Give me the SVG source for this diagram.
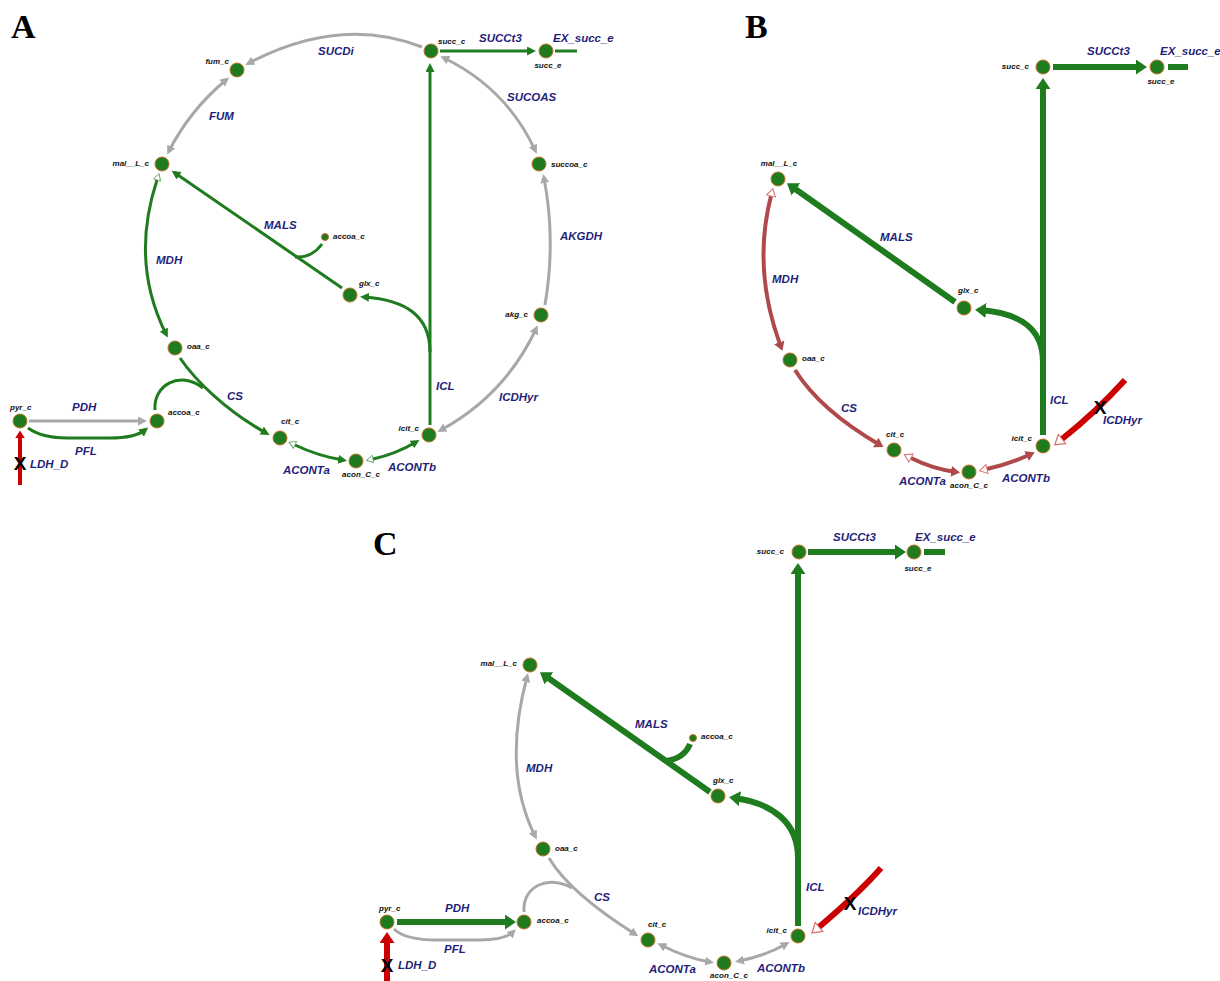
<svg xmlns="http://www.w3.org/2000/svg" width="1220" height="981" viewBox="0 0 1220 981">
<style>
.n{fill:#1e7b1e;stroke:#c0702a;stroke-width:1}
.nl{font-family:"Liberation Sans",Arial,sans-serif;font-size:8px;font-style:italic;font-weight:bold;fill:#111}
.rl{font-family:"Liberation Sans",Arial,sans-serif;font-size:11.5px;font-style:italic;font-weight:bold;fill:#1f1f7a}
.pl{font-family:"Liberation Serif","Times New Roman",serif;font-size:34px;font-weight:bold;fill:#000}
.x{font-family:"Liberation Sans",Arial,sans-serif;font-size:19px;font-weight:bold;fill:#000;text-anchor:middle}
.e{fill:none;stroke-linecap:butt;stroke-linejoin:round}
.g3{stroke:#1e7b1e;stroke-width:3}
.y3{stroke:#a8a8a8;stroke-width:3}
.g6{stroke:#1e7b1e;stroke-width:6}
.b4{stroke:#b04a4a;stroke-width:4}
.r4{stroke:#cc0000;stroke-width:4}
.r6{stroke:#cc0000;stroke-width:6}
.end{text-anchor:end}
.mid{text-anchor:middle}
</style>
<defs>
<marker id="ag" viewBox="0 0 10 10" markerUnits="userSpaceOnUse" markerWidth="9" markerHeight="9" refX="5.5" refY="5" orient="auto-start-reverse" preserveAspectRatio="none"><path d="M0,0L10,5L0,10z" fill="#1e7b1e"/></marker>
<marker id="ay" viewBox="0 0 10 10" markerUnits="userSpaceOnUse" markerWidth="9" markerHeight="9" refX="5.5" refY="5" orient="auto-start-reverse" preserveAspectRatio="none"><path d="M0,0L10,5L0,10z" fill="#a8a8a8"/></marker>
<marker id="agL" viewBox="0 0 10 10" markerUnits="userSpaceOnUse" markerWidth="11" markerHeight="15" refX="5.5" refY="5" orient="auto-start-reverse" preserveAspectRatio="none"><path d="M0,0L10,5L0,10z" fill="#1e7b1e"/></marker>
<marker id="ab" viewBox="0 0 10 10" markerUnits="userSpaceOnUse" markerWidth="9" markerHeight="11" refX="5.5" refY="5" orient="auto-start-reverse" preserveAspectRatio="none"><path d="M0,0L10,5L0,10z" fill="#b04a4a"/></marker>
<marker id="ar" viewBox="0 0 10 10" markerUnits="userSpaceOnUse" markerWidth="8" markerHeight="10" refX="5.5" refY="5" orient="auto-start-reverse" preserveAspectRatio="none"><path d="M0,0L10,5L0,10z" fill="#cc0000"/></marker>
<marker id="arL" viewBox="0 0 10 10" markerUnits="userSpaceOnUse" markerWidth="11" markerHeight="15" refX="5.5" refY="5" orient="auto-start-reverse" preserveAspectRatio="none"><path d="M0,0L10,5L0,10z" fill="#cc0000"/></marker>
<marker id="aog" viewBox="-1 -1 12 12" markerUnits="userSpaceOnUse" markerWidth="8" markerHeight="9" refX="0" refY="5" orient="auto-start-reverse" preserveAspectRatio="none"><path d="M0,0L10,5L0,10z" fill="#fff" stroke="#5aa05a" stroke-width="1.2"/></marker>
<marker id="aop" viewBox="-1 -1 12 12" markerUnits="userSpaceOnUse" markerWidth="9" markerHeight="11" refX="0" refY="5" orient="auto-start-reverse" preserveAspectRatio="none"><path d="M0,0L10,5L0,10z" fill="#fff" stroke="#e07070" stroke-width="1.2"/></marker>
<marker id="aopL" viewBox="-1 -1 12 12" markerUnits="userSpaceOnUse" markerWidth="11" markerHeight="14" refX="0" refY="5" orient="auto-start-reverse" preserveAspectRatio="none"><path d="M0,0L10,5L0,10z" fill="#fff" stroke="#e07070" stroke-width="1.2"/></marker>
</defs>
<rect width="1220" height="981" fill="#fff"/>

<text class="pl" x="11" y="38">A</text>
<text class="pl" x="745" y="38">B</text>
<text class="pl" x="373" y="555">C</text>

<g id="connectors">
<!-- Panel A -->
<path class="e y3" d="M422,47 Q340,15 249,63" marker-end="url(#ay)"/>
<path class="e y3" d="M226,80 Q190,110 169,151" marker-start="url(#ay)" marker-end="url(#ay)"/>
<path class="e g3" d="M440,51 L532,51" marker-end="url(#ag)"/>
<path class="e g3" d="M555,51 L577,51"/>
<path class="e y3" d="M444,58 Q506,88 535,150" marker-start="url(#ay)" marker-end="url(#ay)"/>
<path class="e y3" d="M545,305 Q556,240 544,178" marker-end="url(#ay)"/>
<path class="e y3" d="M441,430 Q505,395 536,329" marker-start="url(#ay)" marker-end="url(#ay)"/>
<path class="e g3" d="M430,425 L430,67" marker-end="url(#ag)"/>
<path class="e g3" d="M430,352 C430,315 405,300 364,297" marker-end="url(#ag)"/>
<path class="e g3" d="M373,459 Q396,454 416,442" marker-start="url(#aog)" marker-end="url(#ag)"/>
<path class="e g3" d="M295,445 Q318,456 343,460" marker-start="url(#aog)" marker-end="url(#ag)"/>
<path class="e g3" d="M180,358 C195,380 225,410 266,433" marker-end="url(#ag)"/>
<path class="e g3" d="M155,410 C153,385 180,370 203,388"/>
<path class="e g3" d="M157,180 Q130,262 166,334" marker-start="url(#aog)" marker-end="url(#ag)"/>
<path class="e g3" d="M342,288 L175,173" marker-end="url(#ag)"/>
<path class="e g3" d="M322,244 Q312,258 295,257"/>
<path class="e y3" d="M29,421 L143,421" marker-end="url(#ay)"/>
<path class="e g3" d="M28,428 Q42,438 67,438 L110,438 Q135,438 145,430" marker-end="url(#ag)"/>
<path class="e r4" d="M20,485 L20,434" marker-end="url(#ar)"/>

<!-- Panel B -->
<path class="e g6" d="M1053,67 L1142,67" marker-end="url(#agL)"/>
<path class="e g6" d="M1168,67 L1188,67"/>
<path class="e g6" d="M1043,435 L1043,83" marker-end="url(#agL)"/>
<path class="e g6" d="M1043,362 C1043,328 1020,313 980,310" marker-end="url(#agL)"/>
<path class="e g6" d="M955,302 L791,186" marker-end="url(#agL)"/>
<path class="e b4" d="M771,196 Q752,270 781,347" marker-start="url(#aop)" marker-end="url(#ab)"/>
<path class="e b4" d="M795,370 Q820,410 880,445" marker-end="url(#ab)"/>
<path class="e b4" d="M911,458 Q933,469 956,472" marker-start="url(#aop)" marker-end="url(#ab)"/>
<path class="e b4" d="M987,469 Q1012,463 1031,454" marker-start="url(#aop)" marker-end="url(#ab)"/>
<path class="e r6" d="M1125,380 Q1095,413 1062,439" marker-end="url(#aopL)"/>

<!-- Panel C -->
<path class="e g6" d="M808,552 L901,552" marker-end="url(#agL)"/>
<path class="e g6" d="M924,552 L945,552"/>
<path class="e g6" d="M798,926 L798,568" marker-end="url(#agL)"/>
<path class="e g6" d="M798,858 C798,822 772,803 734,798" marker-end="url(#agL)"/>
<path class="e g6" d="M710,792 L544,675" marker-end="url(#agL)"/>
<path class="e g6" d="M690,744 Q684,759 665,761"/>
<path class="e y3" d="M527,677 Q502,770 535,836" marker-start="url(#ay)" marker-end="url(#ay)"/>
<path class="e y3" d="M549,858 C565,885 600,912 635,934" marker-end="url(#ay)"/>
<path class="e y3" d="M524,912 C522,885 550,875 572,888"/>
<path class="e g6" d="M397,922 L511,922" marker-end="url(#agL)"/>
<path class="e y3" d="M394,929 Q405,940 437,940 L480,940 Q505,940 513,932" marker-end="url(#ay)"/>
<path class="e r6" d="M387,981 L387,937" marker-end="url(#arL)"/>
<path class="e y3" d="M661,945 Q686,958 710,962" marker-start="url(#ay)" marker-end="url(#ay)"/>
<path class="e y3" d="M739,961 Q765,956 786,944" marker-start="url(#ay)" marker-end="url(#ay)"/>
<path class="e r6" d="M881,868 Q858,894 819,927" marker-end="url(#aopL)"/>
</g>

<g id="reaction-labels">
<text class="rl" x="318" y="55">SUCDi</text>
<text class="rl" x="479" y="42">SUCCt3</text>
<text class="rl" x="553" y="42">EX_succ_e</text>
<text class="rl" x="507" y="101">SUCOAS</text>
<text class="rl" x="560" y="240">AKGDH</text>
<text class="rl" x="209" y="120">FUM</text>
<text class="rl" x="264" y="229">MALS</text>
<text class="rl" x="156" y="264">MDH</text>
<text class="rl" x="227" y="400">CS</text>
<text class="rl" x="72" y="411">PDH</text>
<text class="rl" x="75" y="455">PFL</text>
<text class="rl" x="30" y="468">LDH_D</text>
<text class="rl" x="283" y="474">ACONTa</text>
<text class="rl" x="436" y="390">ICL</text>
<text class="rl" x="499" y="401">ICDHyr</text>
<text class="rl" x="388" y="471">ACONTb</text>
<text class="x" x="20" y="470">X</text>

<text class="rl" x="1087" y="55">SUCCt3</text>
<text class="rl" x="1160" y="55">EX_succ_e</text>
<text class="rl" x="880" y="241">MALS</text>
<text class="rl" x="772" y="283">MDH</text>
<text class="rl" x="841" y="412">CS</text>
<text class="rl" x="899" y="485">ACONTa</text>
<text class="rl" x="1002" y="482">ACONTb</text>
<text class="rl" x="1050" y="404">ICL</text>
<text class="rl" x="1103" y="424">ICDHyr</text>
<text class="x" x="1100" y="414">X</text>

<text class="rl" x="833" y="541">SUCCt3</text>
<text class="rl" x="915" y="541">EX_succ_e</text>
<text class="rl" x="635" y="728">MALS</text>
<text class="rl" x="526" y="772">MDH</text>
<text class="rl" x="594" y="901">CS</text>
<text class="rl" x="445" y="912">PDH</text>
<text class="rl" x="444" y="953">PFL</text>
<text class="rl" x="398" y="969">LDH_D</text>
<text class="rl" x="649" y="973">ACONTa</text>
<text class="rl" x="757" y="972">ACONTb</text>
<text class="rl" x="806" y="891">ICL</text>
<text class="rl" x="858" y="915">ICDHyr</text>
<text class="x" x="850" y="910">X</text>
<text class="x" x="387" y="972">X</text>
</g>

<!-- Panel A nodes -->
<g id="A_fum_c"><circle class="n" cx="237" cy="70" r="7"/><text class="nl end" x="229" y="64">fum_c</text></g>
<g id="A_mal__L_c"><circle class="n" cx="162" cy="164" r="7"/><text class="nl end" x="149" y="166">mal__L_c</text></g>
<g id="A_succ_c"><circle class="n" cx="431" cy="51" r="7"/><text class="nl" x="438" y="44">succ_c</text></g>
<g id="A_succ_e"><circle class="n" cx="546" cy="51" r="7"/><text class="nl mid" x="548" y="68">succ_e</text></g>
<g id="A_succoa_c"><circle class="n" cx="539" cy="164" r="7"/><text class="nl" x="551" y="167">succoa_c</text></g>
<g id="A_accoa_c_2"><circle class="n" cx="325" cy="237" r="3.5"/><text class="nl" x="333" y="239">accoa_c</text></g>
<g id="A_glx_c"><circle class="n" cx="350" cy="295" r="7"/><text class="nl" x="359" y="286">glx_c</text></g>
<g id="A_akg_c"><circle class="n" cx="541" cy="315" r="7"/><text class="nl end" x="528" y="317">akg_c</text></g>
<g id="A_icit_c"><circle class="n" cx="429" cy="435" r="7"/><text class="nl end" x="419" y="431">icit_c</text></g>
<g id="A_cit_c"><circle class="n" cx="280" cy="438" r="7"/><text class="nl" x="281" y="424">cit_c</text></g>
<g id="A_acon_C_c"><circle class="n" cx="356" cy="461" r="7"/><text class="nl mid" x="361" y="477">acon_C_c</text></g>
<g id="A_oaa_c"><circle class="n" cx="175" cy="348" r="7"/><text class="nl" x="187" y="349">oaa_c</text></g>
<g id="A_accoa_c"><circle class="n" cx="157" cy="421" r="7"/><text class="nl" x="168" y="415">accoa_c</text></g>
<g id="A_pyr_c"><circle class="n" cx="20" cy="421" r="7"/><text class="nl" x="10" y="410">pyr_c</text></g>

<!-- Panel B nodes -->
<g id="B_succ_c"><circle class="n" cx="1043" cy="67" r="7"/><text class="nl end" x="1029" y="69">succ_c</text></g>
<g id="B_succ_e"><circle class="n" cx="1157" cy="67" r="7"/><text class="nl mid" x="1161" y="84">succ_e</text></g>
<g id="B_mal__L_c"><circle class="n" cx="778" cy="179" r="7"/><text class="nl mid" x="779" y="166">mal__L_c</text></g>
<g id="B_glx_c"><circle class="n" cx="964" cy="308" r="7"/><text class="nl" x="958" y="293">glx_c</text></g>
<g id="B_oaa_c"><circle class="n" cx="790" cy="360" r="7"/><text class="nl" x="802" y="361">oaa_c</text></g>
<g id="B_cit_c"><circle class="n" cx="894" cy="450" r="7"/><text class="nl" x="886" y="437">cit_c</text></g>
<g id="B_acon_C_c"><circle class="n" cx="969" cy="472" r="7"/><text class="nl mid" x="969" y="488">acon_C_c</text></g>
<g id="B_icit_c"><circle class="n" cx="1043" cy="446" r="7"/><text class="nl end" x="1032" y="441">icit_c</text></g>

<!-- Panel C nodes -->
<g id="C_succ_c"><circle class="n" cx="799" cy="552" r="7"/><text class="nl end" x="784" y="554">succ_c</text></g>
<g id="C_succ_e"><circle class="n" cx="914" cy="552" r="7"/><text class="nl mid" x="918" y="571">succ_e</text></g>
<g id="C_mal__L_c"><circle class="n" cx="530" cy="665" r="7"/><text class="nl end" x="517" y="666">mal__L_c</text></g>
<g id="C_accoa_c_2"><circle class="n" cx="693" cy="738" r="3.5"/><text class="nl" x="701" y="739">accoa_c</text></g>
<g id="C_glx_c"><circle class="n" cx="718" cy="796" r="7"/><text class="nl" x="713" y="783">glx_c</text></g>
<g id="C_oaa_c"><circle class="n" cx="543" cy="849" r="7"/><text class="nl" x="555" y="851">oaa_c</text></g>
<g id="C_accoa_c"><circle class="n" cx="524" cy="922" r="7"/><text class="nl" x="537" y="923">accoa_c</text></g>
<g id="C_pyr_c"><circle class="n" cx="387" cy="922" r="7"/><text class="nl" x="379" y="911">pyr_c</text></g>
<g id="C_cit_c"><circle class="n" cx="648" cy="940" r="7"/><text class="nl" x="648" y="927">cit_c</text></g>
<g id="C_acon_C_c"><circle class="n" cx="724" cy="963" r="7"/><text class="nl mid" x="729" y="978">acon_C_c</text></g>
<g id="C_icit_c"><circle class="n" cx="798" cy="936" r="7"/><text class="nl end" x="787" y="933">icit_c</text></g>
</svg>
